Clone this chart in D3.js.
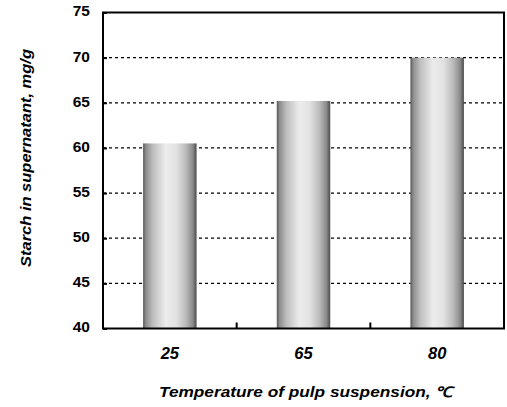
<!DOCTYPE html>
<html><head><meta charset="utf-8">
<script src="https://cdn.jsdelivr.net/npm/d3@7"></script>
<style>body{margin:0;background:#fff}</style>
</head><body>
<svg id="c" width="507" height="407"></svg>
<script>
const categories = ["25", "65", "80"];
const values = [60.5, 65.2, 70.0];
const yTicks = [40, 45, 50, 55, 60, 65, 70, 75];
const gridTicks = [45, 50, 55, 60, 65, 70];
const xTitle = "Temperature of pulp suspension, ℃";
const yTitle = "Starch in supernatant, mg/g";

const FONT = "Liberation Sans, Arial, sans-serif";
const svg = d3.select("#c");
const m = {l:103, r:504, t:12.5, b:328.5};
const x = d3.scaleBand().domain(categories).range([m.l, m.r]).paddingInner(0.6).paddingOuter(0.3);
const xb = d3.scaleBand().domain(categories).range([m.l, m.r]);
const y = d3.scaleLinear().domain([40, 75]).range([m.b, m.t]);

const defs = svg.append("defs");
const g = defs.append("linearGradient").attr("id","bar").attr("x1","0").attr("x2","1").attr("y1","0").attr("y2","0");
[[0,"#555"],[0.05,"#8c8c8c"],[0.18,"#bdbdbd"],[0.42,"#ececec"],[0.62,"#e2e2e2"],[0.8,"#bababa"],[0.93,"#8a8a8a"],[1,"#4a4a4a"]]
  .forEach(([o,c])=>g.append("stop").attr("offset",o).attr("stop-color",c));

// gridlines
svg.append("g").selectAll("line").data(gridTicks).join("line")
  .attr("x1", m.l).attr("x2", m.r)
  .attr("y1", d=>y(d)).attr("y2", d=>y(d))
  .attr("stroke","#000").attr("stroke-width",1.2).attr("stroke-dasharray","3,3");

// bars
svg.append("g").selectAll("rect").data(values).join("rect")
  .attr("x",(d,i)=>x(categories[i])).attr("width",x.bandwidth())
  .attr("y",d=>y(d)).attr("height",d=>y(40)-y(d))
  .attr("fill","url(#bar)");

// frame
svg.append("rect").attr("x",m.l).attr("y",m.t).attr("width",m.r-m.l).attr("height",m.b-m.t)
  .attr("fill","none").attr("stroke","#000").attr("stroke-width",2);

// y axis
const ya = d3.axisLeft(y).tickValues(yTicks).tickSize(-4).tickPadding(13);
const yg = svg.append("g").attr("transform",`translate(${m.l},0)`).call(ya);
yg.select(".domain").remove();
yg.selectAll("line").attr("stroke-width",2);
yg.selectAll("text").attr("font-family",FONT).attr("font-weight","bold").attr("font-size",15.5).attr("fill","#000").attr("dy","0.22em");

// x axis
const xa = d3.axisBottom(x).tickSize(0).tickPadding(19);
const xg = svg.append("g").attr("transform",`translate(0,${m.b})`).call(xa);
xg.select(".domain").remove();
xg.selectAll("text").attr("font-family",FONT).attr("font-weight","bold").attr("font-style","italic").attr("font-size",16.5).attr("fill","#000");
// category separator ticks
svg.append("g").selectAll("line").data(categories.slice(1)).join("line")
  .attr("x1",d=>xb(d)).attr("x2",d=>xb(d)).attr("y1",m.b).attr("y2",m.b-6)
  .attr("stroke","#000").attr("stroke-width",2);

// titles
svg.append("text").attr("x",159).attr("y",397)
  .attr("font-family",FONT).attr("font-weight","bold").attr("font-style","italic").attr("font-size",14.5)
  .attr("textLength",293).attr("lengthAdjust","spacingAndGlyphs")
  .text(xTitle);
svg.append("text").attr("transform","translate(31,267) rotate(-90)")
  .attr("font-family",FONT).attr("font-weight","bold").attr("font-style","italic").attr("font-size",14.5)
  .attr("textLength",218).attr("lengthAdjust","spacingAndGlyphs")
  .text(yTitle);
</script>
</body></html>
